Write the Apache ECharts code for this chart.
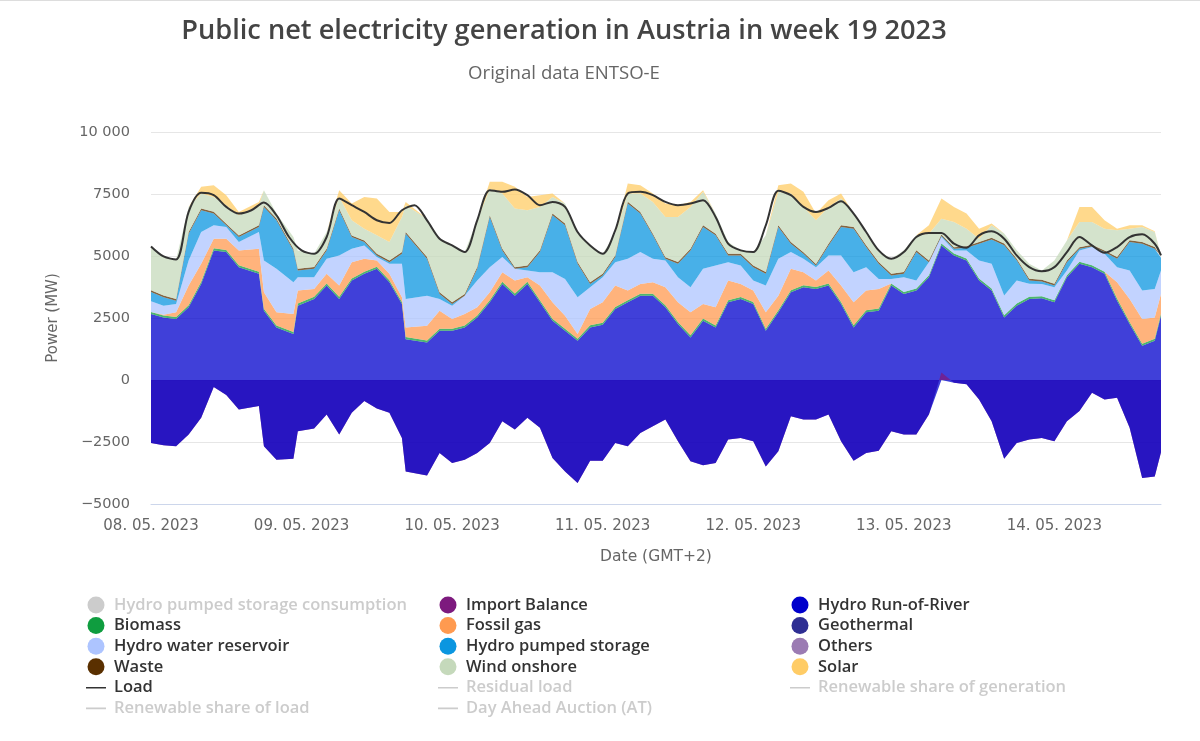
<!DOCTYPE html>
<html>
<head>
<meta charset="UTF-8">
<title>Public net electricity generation in Austria in week 19 2023</title>
<script src="https://cdn.jsdelivr.net/npm/echarts@6/dist/echarts.min.js"></script>
<style>
  html, body { margin: 0; padding: 0; background: #fff; }
  #main { width: 1200px; height: 741px; box-sizing: border-box; border-top: 1px solid #ddd; }
</style>
</head>
<body>
<div id="main"></div>
<script>
// values, about one every two hours (MW)
// the *Top arrays are the upper edge of each band in the stack
var dayLabels = ['08. 05. 2023', '09. 05. 2023', '10. 05. 2023', '11. 05. 2023', '12. 05. 2023', '13. 05. 2023', '14. 05. 2023'];

// hours since 08.05. 00:00, a few samples sit right on the steep drops
var sampleHours = [0,2,4,6,8,10,12,14,17.2,18,20,22.7,23.4,26,28,30,32,34,36,38,40,40.6,44,46,48,50,52,54,56,58,60,62,64,66,68,70,72,74,76,78,80,82,84,86,88,90,92,94,96,98,100,102,104,106,108,110,112,114,116,118,120,122,124,126,128,130,132,134,136,138,140,142,144,146,148,150,152,154,156,158,160,161];
// the load line is smooth, its samples stay evenly spaced
var loadHours = [0,2,4,6,8,10,12,14,16,18,20,22,24,26,28,30,32,34,36,38,40,42,44,46,48,50,52,54,56,58,60,62,64,66,68,70,72,74,76,78,80,82,84,86,88,90,92,94,96,98,100,102,104,106,108,110,112,114,116,118,120,122,124,126,128,130,132,134,136,138,140,142,144,146,148,150,152,154,156,158,160,161];

var importBalance = [-2538,-2632,-2673,-2200,-1525,-283,-607,-1188,-1053,-2673,-3213,-3172,-2065,-1957,-1390,-2200,-1323,-850,-1147,-1323,-2335,-3685,-3847,-2943,-3348,-3213,-2943,-2538,-1660,-1998,-1525,-1930,-3145,-3685,-4158,-3253,-3253,-2538,-2673,-2133,-1863,-1593,-2470,-3280,-3442,-3348,-2403,-2335,-2470,-3483,-2875,-1458,-1593,-1593,-1390,-2470,-3253,-2943,-2848,-2065,-2200,-2200,-1390,300,-108,-175,-783,-1660,-3172,-2538,-2403,-2335,-2470,-1660,-1255,-513,-783,-715,-1930,-3955,-3888,-2916];

var rorTop = [2660,2525,2457,2930,3875,5225,5157,4550,4280,2795,2120,1850,2997,3267,3807,3267,4010,4280,4482,3942,3065,1647,1512,1985,1985,2120,2525,3132,3875,3402,3875,3132,2390,1985,1580,2120,2228,2862,3132,3402,3402,2930,2255,1715,2390,2120,3132,3267,3065,1985,2727,3537,3740,3672,3807,3065,2120,2727,2795,3807,3470,3605,4145,5427,5022,4820,4010,3605,2525,2997,3267,3294,3132,4145,4685,4550,4280,3200,2255,1377,1580,2592];

var gasTop = [2727,2632,2727,3807,4685,5697,5697,5225,5292,3537,2727,2660,3605,3672,4280,3807,4752,4887,4820,4280,3335,2120,2187,2795,2457,2660,2930,3537,4347,4010,4145,3807,3132,2592,1850,2862,3132,3807,3605,3875,3942,3740,3132,2727,3065,2930,4010,3875,3605,2727,3402,4482,4347,4010,4415,3807,3132,3605,3672,3888,3550,3685,4225,5508,5103,4900,4090,3685,2605,3078,3348,3375,3213,4225,4765,4630,4360,3942,3267,2457,2525,3470];

var reservoirTop = [3159,2997,3065,4820,5967,6237,6170,5562,5967,4820,4482,3942,4145,4145,4887,5022,5292,5427,4955,4685,4685,3267,3402,3267,2997,3402,4010,4550,4955,4482,4415,4347,4347,4077,3335,3740,4145,4752,4887,5157,4887,4820,4145,3740,4482,4617,4752,4617,4010,3807,4887,5157,4887,4550,5022,5022,4347,4550,4077,4077,4145,4010,4752,5765,5225,5225,4820,4685,3402,4010,3875,3875,3740,4415,5225,5360,5090,4550,4415,3605,3672,4415];

var pumpedTop = [3537,3335,3200,5900,6845,6710,6237,5765,6170,6980,6440,5225,4415,4482,5225,6845,5765,5562,5022,4752,5090,5900,4887,3470,3065,3402,4482,6575,5225,4482,4550,5157,6642,6237,4685,3875,4212,4955,7115,6710,5832,4887,4685,5225,6170,5832,5022,5022,4550,4280,6170,5495,5090,4617,5427,6170,6102,5360,4685,4212,4280,5157,4752,5805,5292,5332,5495,5656,5427,4820,4010,3969,3807,4752,5292,5386,5157,4887,5562,5495,5292,4927];

var windTop = [5386,4981,4860,6980,7519,7384,7047,6642,7047,7654,6710,5765,5225,5090,5967,7384,6440,6102,5832,5562,6575,7047,6507,5697,5427,5157,6440,7700,7519,6912,6845,6980,7384,7115,5967,5427,5090,5900,7519,7519,7182,6575,6575,6980,7587,6710,5562,5225,5157,5832,7587,7519,6980,6440,6980,7317,6710,5900,5225,4887,5225,5832,5900,6507,6372,6102,5697,6237,5900,5225,4685,4415,4820,5630,6372,6372,6102,6035,6102,6170,5967,5022];

var solarTop = [5386,4981,4860,6980,7790,7857,7452,6777,7182,7654,6710,5765,5225,5090,5967,7654,7115,7384,7317,6777,6777,7182,6507,5697,5427,5157,6440,7992,7992,7790,7384,7452,7519,7115,5967,5427,5090,5900,7924,7857,7519,7115,7047,7182,7654,6710,5562,5225,5157,5832,7857,7924,7587,6710,7250,7519,6710,5900,5225,4887,5225,5832,6237,7317,6980,6710,6102,6305,5900,5225,4685,4415,4820,5630,6980,6980,6440,6102,6237,6237,5994,5022];

var biomass = [80,80,80,85,85,85,85,80,80,80,80,85,85,85,85,85,80,80,80,80,85,85,85,85,80,80,80,80,85,85,85,80,80,80,85,85,85,85,80,80,80,80,85,85,85,80,80,80,80,85,85,85,80,80,80,85,85,85,85,80,80,80,80,80,80,80,80,85,85,85,85,80,80,80,80,80,80,85,85,85,85,85];

var waste = [70,70,70,70,70,70,65,65,65,70,70,70,70,70,70,70,65,65,65,65,70,70,70,70,70,70,70,70,65,65,65,70,70,70,70,70,70,70,70,65,65,65,70,70,70,70,70,70,70,70,70,65,65,65,70,70,70,70,70,70,70,70,65,65,65,65,70,70,70,70,70,70,70,70,65,65,65,70,70,70,70,70];

var load = [5386,4981,4860,6777,7546,7452,6980,6710,6845,7155,6642,5765,5225,5090,5765,7317,7047,6777,6440,6331,6845,7047,6440,5697,5427,5157,6440,7654,7587,7681,7452,7047,7182,6980,5967,5427,5090,6035,7519,7587,7452,7182,7047,7115,7250,6575,5495,5225,5157,6237,7627,7452,6980,6777,6939,7209,6710,5967,5225,4887,5157,5765,5926,5926,5495,5332,5832,5994,5697,5022,4550,4387,4550,5157,5765,5427,5130,5360,5765,5872,5495,5022];

var legendCol1 = ['Hydro pumped storage consumption', 'Biomass', 'Hydro water reservoir', 'Waste', 'Load', 'Renewable share of load'];
var legendCol2 = ['Import Balance', 'Fossil gas', 'Hydro pumped storage', 'Wind onshore', 'Residual load', 'Day Ahead Auction (AT)'];
var legendCol3 = ['Hydro Run-of-River', 'Geothermal', 'Others', 'Solar', 'Renewable share of generation'];
var hiddenNames = ['Hydro pumped storage consumption', 'Residual load', 'Renewable share of load', 'Renewable share of generation', 'Day Ahead Auction (AT)'];
var lineNames = ['Load', 'Residual load', 'Renewable share of load', 'Renewable share of generation', 'Day Ahead Auction (AT)'];

var HOUR = 3600000;
var start = new Date(2023, 4, 8, 0, 0, 0).getTime();

function pairs(vals, hours) {
  return vals.map(function (v, i) { return [start + (hours || sampleHours)[i] * HOUR, v]; });
}
// band height between two edges of the stack
function band(top, bottom, extra) {
  return top.map(function (v, i) {
    return Math.max(0, v - bottom[i] - (extra ? extra[i] : 0));
  });
}
function areaSeries(name, color, vals) {
  return {
    name: name, type: 'line', stack: 'gen', showSymbol: false, symbol: 'none',
    data: pairs(vals), itemStyle: { color: color }, lineStyle: { width: 0 },
    areaStyle: { color: color, opacity: 0.75 }, animation: false, z: 2
  };
}
function emptySeries(name, color) {
  return { name: name, type: 'line', showSymbol: false, symbol: 'none', data: [], itemStyle: { color: color }, animation: false };
}

var importNegative = importBalance.map(function (v) { return Math.min(v, 0); });

var series = [
  emptySeries('Hydro pumped storage consumption', '#c8c8c8'),
  {
    name: 'Import Balance', type: 'line', showSymbol: false, symbol: 'none', data: pairs(importBalance),
    itemStyle: { color: '#7d1a7e' }, lineStyle: { width: 0 }, areaStyle: { color: '#7d1a7e', opacity: 0.75 }, animation: false, z: 3
  },
  areaSeries('Hydro Run-of-River', '#0000cc', rorTop),
  areaSeries('Biomass', '#0f9d3f', biomass),
  emptySeries('Geothermal', '#2e2e93'),
  areaSeries('Fossil gas', '#ff9a50', band(gasTop, rorTop, biomass)),
  areaSeries('Hydro water reservoir', '#adc4ff', band(reservoirTop, gasTop)),
  areaSeries('Hydro pumped storage', '#0b96e0', band(pumpedTop, reservoirTop)),
  emptySeries('Others', '#9b7bb3'),
  areaSeries('Waste', '#5a3000', waste),
  areaSeries('Wind onshore', '#c5d9bb', band(windTop, pumpedTop, waste)),
  areaSeries('Solar', '#ffcc66', band(solarTop, windTop)),
  // the lower area is blue laid over the purple of the import balance
  {
    name: 'Hydro Run-of-River', type: 'line', showSymbol: false, symbol: 'none', data: pairs(importNegative),
    itemStyle: { color: '#0000cc' }, lineStyle: { width: 0 }, areaStyle: { color: '#0000cc', opacity: 0.75 }, animation: false, z: 4
  },
  {
    name: 'Load', type: 'line', showSymbol: false, symbol: 'none', smooth: 0.3, data: pairs(load, loadHours),
    itemStyle: { color: '#333333' }, lineStyle: { color: '#333333', width: 2 }, animation: false, z: 5
  },
  emptySeries('Residual load', '#888888'),
  emptySeries('Renewable share of load', '#888888'),
  emptySeries('Renewable share of generation', '#888888'),
  emptySeries('Day Ahead Auction (AT)', '#888888')
];

var selected = {};
hiddenNames.forEach(function (n) { selected[n] = false; });

// a flat dash that still fills the icon box, so it does not get stretched
var dashIcon = 'path://M0,0h.01v.01h-.01zM0,8h20v1.7h-20zM0,17h.01v.01h-.01z';

function legendColumn(names, left) {
  return {
    data: names.map(function (n) { return { name: n, icon: lineNames.indexOf(n) >= 0 ? dashIcon : 'circle' }; }),
    orient: 'vertical', left: left, top: 594, itemWidth: 20, itemHeight: 17, itemGap: 0.6,
    selected: selected, inactiveColor: '#cccccc', padding: 0,
    textStyle: { fontFamily: 'Open Sans', fontSize: 16.5, fontWeight: 600, color: '#333333', padding: [0, 0, 0, 3], lineHeight: 20 }
  };
}

var chart = echarts.init(document.getElementById('main'));
chart.setOption({
  backgroundColor: '#ffffff',
  title: [
    { text: 'Public net electricity generation in Austria in week 19 2023', left: 559, top: 12, textAlign: 'center',
      textStyle: { fontFamily: 'Open Sans', fontSize: 27.2, fontWeight: 600, color: '#444444' } },
    { text: 'Original data ENTSO-E', left: 559, top: 58, textAlign: 'center',
      textStyle: { fontFamily: 'Open Sans', fontSize: 18.6, fontWeight: 400, color: '#666666' } }
  ],
  legend: [legendColumn(legendCol1, 86), legendColumn(legendCol2, 438), legendColumn(legendCol3, 790)],
  grid: { left: 151, right: 39, top: 131, bottom: 237 },
  xAxis: {
    type: 'time', min: start, max: start + 161 * HOUR, minInterval: 24 * HOUR, maxInterval: 24 * HOUR,
    name: 'Date (GMT+2)', nameLocation: 'middle', nameGap: 45,
    nameTextStyle: { fontFamily: 'DejaVu Sans', fontSize: 15.5, color: '#666666' },
    axisLine: { onZero: false, lineStyle: { color: '#ccd6eb', width: 1 } },
    axisTick: { show: false }, splitLine: { show: false },
    axisLabel: {
      fontFamily: 'DejaVu Sans', fontSize: 15, color: '#666666', margin: 15, showMaxLabel: false, showMinLabel: true, hideOverlap: false,
      formatter: function (v) {
        var d = (v - start) / (24 * HOUR);
        return d === Math.floor(d) && dayLabels[d] ? dayLabels[d] : '';
      }
    }
  },
  yAxis: {
    type: 'value', min: -5000, max: 10000, interval: 2500,
    name: 'Power (MW)', nameLocation: 'middle', nameGap: 90, nameRotate: 90,
    nameTextStyle: { fontFamily: 'DejaVu Sans', fontSize: 15, color: '#666666' },
    axisLine: { show: false }, axisTick: { show: false },
    splitLine: { lineStyle: { color: '#e6e6e6', width: 1 } },
    axisLabel: {
      fontFamily: 'DejaVu Sans', fontSize: 14.5, color: '#666666', margin: 21,
      formatter: function (v) {
        if (v === 10000) return '10 000';
        return String(v).replace('-', '\u2212');
      }
    }
  },
  series: series
});
</script>
</body>
</html>
